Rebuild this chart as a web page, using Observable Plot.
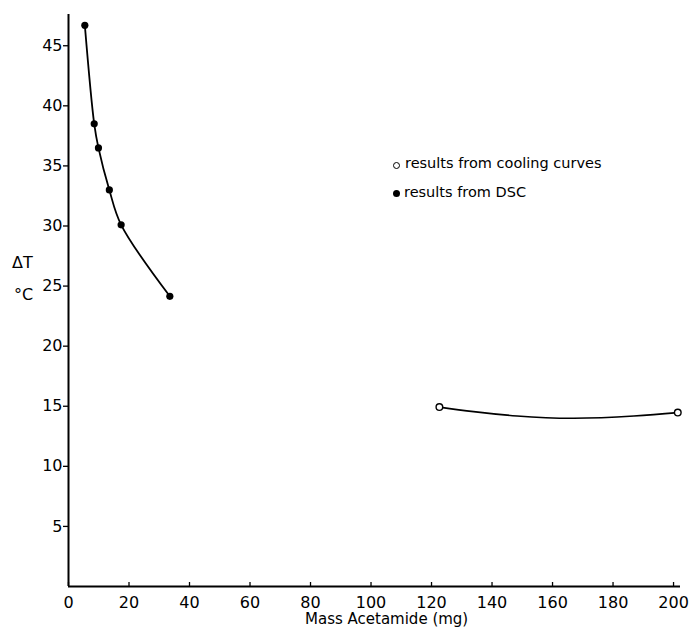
<!DOCTYPE html>
<html><head><meta charset="utf-8">
<script src="https://cdn.jsdelivr.net/npm/d3@7"></script>
<script src="https://cdn.jsdelivr.net/npm/@observablehq/plot@0.6"></script>
<style>
body{margin:0;background:#fff;}
#wrap{position:relative;width:690px;height:629px;font-family:"DejaVu Sans",Arial,sans-serif;color:#000;}
.t{position:absolute;white-space:nowrap;line-height:1;}
svg{position:absolute;left:0;top:0;}
</style></head><body><div id="wrap"></div>
<script>
// DSC results (filled)
const dscMass = [5.4, 8.5, 9.9, 13.5, 17.4, 33.5];
const dscDeltaT = [46.7, 38.5, 36.5, 33.0, 30.1, 24.15];
// cooling curve results (open)
const coolMass = [122.6, 201.4];
const coolDeltaT = [14.93, 14.47];
// hand-drawn fitted curve through cooling results
const coolCurveMass = [122.6, 133.9, 148.3, 167, 186.9, 201.4];
const coolCurveDeltaT = [14.93, 14.55, 14.19, 14.0, 14.19, 14.47];
// ticks
const xTicks = [0, 20, 40, 60, 80, 100, 120, 140, 160, 180, 200];
const yTicks = [5, 10, 15, 20, 25, 30, 35, 40, 45];

const dsc = dscMass.map((m, i) => ({m, t: dscDeltaT[i]}));
const cool = coolMass.map((m, i) => ({m, t: coolDeltaT[i]}));
const coolCurve = coolCurveMass.map((m, i) => ({m, t: coolCurveDeltaT[i]}));

const chart = Plot.plot({
  width: 690,
  height: 629,
  marginLeft: 68,
  marginRight: 10,
  marginTop: 14,
  marginBottom: 43,
  style: {fontFamily: '"DejaVu Sans", Arial, sans-serif', background: "#fff", color: "#000"},
  x: {domain: [0, 202.3]},
  y: {domain: [0, 47.6]},
  marks: [
    Plot.axisY(yTicks, {tickSize: 5, tickPadding: 1, fontSize: 16, label: null, strokeWidth: 1.3}),
    Plot.axisX(xTicks, {tickSize: 0, tickPadding: 10, fontSize: 16, label: null}),
    Plot.axisX(xTicks, {tickSize: 4, dy: -4, tickFormat: () => "", label: null, strokeWidth: 1.3}),
    Plot.ruleX([0], {stroke: "#000", strokeWidth: 2}),
    Plot.ruleY([0], {stroke: "#000", strokeWidth: 2}),
    Plot.line(dsc, {x: "m", y: "t", curve: "catmull-rom", stroke: "#000", strokeWidth: 1.8}),
    Plot.dot(dsc, {x: "m", y: "t", r: 3.6, fill: "#000", stroke: "none"}),
    Plot.line(coolCurve, {x: "m", y: "t", curve: "natural", stroke: "#000", strokeWidth: 1.7}),
    Plot.dot(cool, {x: "m", y: "t", r: 3.3, fill: "#fff", stroke: "#000", strokeWidth: 1.4})
  ]
});
const wrap = document.getElementById("wrap");
wrap.appendChild(chart);

function addText(txt, left, top, size) {
  const d = document.createElement("div");
  d.className = "t";
  d.textContent = txt;
  d.style.left = left + "px";
  d.style.top = top + "px";
  d.style.fontSize = size + "px";
  wrap.appendChild(d);
  return d;
}
addText("ΔT", 12, 255, 16);
addText("°C", 14, 287, 16);
addText("Mass Acetamide (mg)", 305, 612, 15);

// legend
const leg = document.createElement("div");
leg.className = "t";
leg.style.left = "393px";
leg.style.top = "155px";
leg.style.fontSize = "14.5px";
leg.innerHTML = '<div style="display:flex;align-items:center;height:17px"><span style="display:inline-block;width:5px;height:5px;border:1.4px solid #000;border-radius:50%;margin-right:5px;margin-top:3px"></span>results from cooling curves</div>' +
  '<div style="display:flex;align-items:center;height:17px;margin-top:12px"><span style="display:inline-block;width:7px;height:7px;background:#000;border-radius:50%;margin-right:4px;margin-top:2px"></span>results from DSC</div>';
wrap.appendChild(leg);
</script>
</body></html>
